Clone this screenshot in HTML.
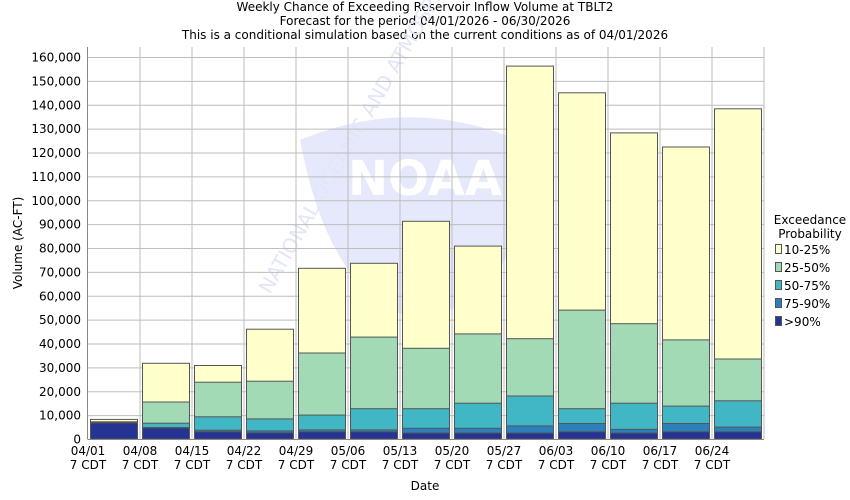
<!DOCTYPE html>
<html><head><meta charset="utf-8"><style>
html,body{margin:0;padding:0;background:#fff}
svg{display:block;font-family:"DejaVu Sans","Liberation Sans",sans-serif}
</style></head><body>
<svg width="850" height="500" viewBox="0 0 850 500" xmlns="http://www.w3.org/2000/svg">
<rect width="850" height="500" fill="#fff"/>
<g font-size="12" text-anchor="middle" fill="#000">
<text x="425" y="11">Weekly Chance of Exceeding Reservoir Inflow Volume at TBLT2</text>
<text x="425" y="25">Forecast for the period 04/01/2026 - 06/30/2026</text>
<text x="425" y="39">This is a conditional simulation based on the current conditions as of 04/01/2026</text>
</g>
<!-- watermark -->
<g>
<path d="M300,140 Q420,90 540,150 Q520,300 420,320 Q330,300 300,140Z" fill="#e6e9fb"/>
<text x="425" y="195" font-size="48" font-weight="bold" fill="#fff" text-anchor="middle">NOAA</text>
<text x="270" y="295" font-size="20" fill="#e3e6f8" transform="rotate(-60 270 295)">NATIONAL OCEANIC AND ATMOSPHERIC</text>
</g>
<!-- grid -->
<g stroke="#bdbdbd" stroke-width="1">
<line x1="88" y1="57.5" x2="764" y2="57.5"/><line x1="88" y1="81.4" x2="764" y2="81.4"/><line x1="88" y1="105.3" x2="764" y2="105.3"/><line x1="88" y1="129.1" x2="764" y2="129.1"/><line x1="88" y1="153" x2="764" y2="153"/><line x1="88" y1="176.9" x2="764" y2="176.9"/><line x1="88" y1="200.8" x2="764" y2="200.8"/><line x1="88" y1="224.6" x2="764" y2="224.6"/><line x1="88" y1="248.5" x2="764" y2="248.5"/><line x1="88" y1="272.4" x2="764" y2="272.4"/><line x1="88" y1="296.3" x2="764" y2="296.3"/><line x1="88" y1="320.1" x2="764" y2="320.1"/><line x1="88" y1="344" x2="764" y2="344"/><line x1="88" y1="367.9" x2="764" y2="367.9"/><line x1="88" y1="391.8" x2="764" y2="391.8"/><line x1="88" y1="415.6" x2="764" y2="415.6"/>
<line x1="140" y1="47" x2="140" y2="439"/><line x1="192" y1="47" x2="192" y2="439"/><line x1="244" y1="47" x2="244" y2="439"/><line x1="296" y1="47" x2="296" y2="439"/><line x1="348" y1="47" x2="348" y2="439"/><line x1="400" y1="47" x2="400" y2="439"/><line x1="452" y1="47" x2="452" y2="439"/><line x1="504" y1="47" x2="504" y2="439"/><line x1="556" y1="47" x2="556" y2="439"/><line x1="608" y1="47" x2="608" y2="439"/><line x1="660" y1="47" x2="660" y2="439"/><line x1="712" y1="47" x2="712" y2="439"/><line x1="764" y1="47" x2="764" y2="439"/>
</g>
<!-- bars -->
<g transform="translate(0,439) scale(1,-1)" stroke="#555" stroke-width="1">
<g><rect x="90.5" width="47" height="19.6" fill="#ffffcc"/><rect x="90.5" width="47" height="17.2" fill="#a1dab4"/><rect x="90.5" width="47" height="17" fill="#41b6c4"/><rect x="90.5" width="47" height="16.7" fill="#2c7fb8"/><rect x="90.5" width="47" height="16" fill="#253494"/></g>
<g><rect x="142.5" width="47" height="75.7" fill="#ffffcc"/><rect x="142.5" width="47" height="37" fill="#a1dab4"/><rect x="142.5" width="47" height="15.8" fill="#41b6c4"/><rect x="142.5" width="47" height="11.5" fill="#2c7fb8"/><rect x="142.5" width="47" height="11" fill="#253494"/></g>
<g><rect x="194.5" width="47" height="73.5" fill="#ffffcc"/><rect x="194.5" width="47" height="56.8" fill="#a1dab4"/><rect x="194.5" width="47" height="22.2" fill="#41b6c4"/><rect x="194.5" width="47" height="8.8" fill="#2c7fb8"/><rect x="194.5" width="47" height="7.2" fill="#253494"/></g>
<g><rect x="246.5" width="47" height="109.8" fill="#ffffcc"/><rect x="246.5" width="47" height="57.8" fill="#a1dab4"/><rect x="246.5" width="47" height="20.1" fill="#41b6c4"/><rect x="246.5" width="47" height="8.1" fill="#2c7fb8"/><rect x="246.5" width="47" height="6.2" fill="#253494"/></g>
<g><rect x="298.5" width="47" height="170.7" fill="#ffffcc"/><rect x="298.5" width="47" height="86" fill="#a1dab4"/><rect x="298.5" width="47" height="23.9" fill="#41b6c4"/><rect x="298.5" width="47" height="9.1" fill="#2c7fb8"/><rect x="298.5" width="47" height="7.2" fill="#253494"/></g>
<g><rect x="350.5" width="47" height="175.7" fill="#ffffcc"/><rect x="350.5" width="47" height="101.9" fill="#a1dab4"/><rect x="350.5" width="47" height="30.3" fill="#41b6c4"/><rect x="350.5" width="47" height="9.1" fill="#2c7fb8"/><rect x="350.5" width="47" height="7.2" fill="#253494"/></g>
<g><rect x="402.5" width="47" height="217.7" fill="#ffffcc"/><rect x="402.5" width="47" height="90.7" fill="#a1dab4"/><rect x="402.5" width="47" height="30.3" fill="#41b6c4"/><rect x="402.5" width="47" height="10.7" fill="#2c7fb8"/><rect x="402.5" width="47" height="6" fill="#253494"/></g>
<g><rect x="454.5" width="47" height="192.9" fill="#ffffcc"/><rect x="454.5" width="47" height="105.1" fill="#a1dab4"/><rect x="454.5" width="47" height="35.8" fill="#41b6c4"/><rect x="454.5" width="47" height="10.7" fill="#2c7fb8"/><rect x="454.5" width="47" height="6" fill="#253494"/></g>
<g><rect x="506.5" width="47" height="372.9" fill="#ffffcc"/><rect x="506.5" width="47" height="100.3" fill="#a1dab4"/><rect x="506.5" width="47" height="43" fill="#41b6c4"/><rect x="506.5" width="47" height="13.1" fill="#2c7fb8"/><rect x="506.5" width="47" height="6" fill="#253494"/></g>
<g><rect x="558.5" width="47" height="346.2" fill="#ffffcc"/><rect x="558.5" width="47" height="128.9" fill="#a1dab4"/><rect x="558.5" width="47" height="30.3" fill="#41b6c4"/><rect x="558.5" width="47" height="15.5" fill="#2c7fb8"/><rect x="558.5" width="47" height="7.2" fill="#253494"/></g>
<g><rect x="610.5" width="47" height="306.1" fill="#ffffcc"/><rect x="610.5" width="47" height="115.3" fill="#a1dab4"/><rect x="610.5" width="47" height="35.8" fill="#41b6c4"/><rect x="610.5" width="47" height="9.6" fill="#2c7fb8"/><rect x="610.5" width="47" height="6" fill="#253494"/></g>
<g><rect x="662.5" width="47" height="292" fill="#ffffcc"/><rect x="662.5" width="47" height="99.1" fill="#a1dab4"/><rect x="662.5" width="47" height="32.9" fill="#41b6c4"/><rect x="662.5" width="47" height="15.5" fill="#2c7fb8"/><rect x="662.5" width="47" height="7.2" fill="#253494"/></g>
<g><rect x="714.5" width="47" height="330.2" fill="#ffffcc"/><rect x="714.5" width="47" height="80" fill="#a1dab4"/><rect x="714.5" width="47" height="38.2" fill="#41b6c4"/><rect x="714.5" width="47" height="11.9" fill="#2c7fb8"/><rect x="714.5" width="47" height="7.2" fill="#253494"/></g>
</g>
<!-- axes -->
<g stroke="#888" stroke-width="1">
<line x1="87.5" y1="47" x2="87.5" y2="439"/><line x1="87.5" y1="439.5" x2="764" y2="439.5"/>
</g>
<g font-size="12" text-anchor="end" fill="#000">
<text x="81" y="61.5">160,000</text><text x="81" y="85.4">150,000</text><text x="81" y="109.3">140,000</text><text x="81" y="133.1">130,000</text><text x="81" y="157">120,000</text><text x="81" y="180.9">110,000</text><text x="81" y="204.8">100,000</text><text x="81" y="228.6">90,000</text><text x="81" y="252.5">80,000</text><text x="81" y="276.4">70,000</text><text x="81" y="300.3">60,000</text><text x="81" y="324.1">50,000</text><text x="81" y="348">40,000</text><text x="81" y="371.9">30,000</text><text x="81" y="395.8">20,000</text><text x="81" y="419.6">10,000</text><text x="81" y="443.5">0</text>
</g>
<g font-size="12" text-anchor="middle" fill="#000">
<text x="88" y="455">04/01</text><text x="88" y="469">7 CDT</text>
<text x="140" y="455">04/08</text><text x="140" y="469">7 CDT</text>
<text x="192" y="455">04/15</text><text x="192" y="469">7 CDT</text>
<text x="244" y="455">04/22</text><text x="244" y="469">7 CDT</text>
<text x="296" y="455">04/29</text><text x="296" y="469">7 CDT</text>
<text x="348" y="455">05/06</text><text x="348" y="469">7 CDT</text>
<text x="400" y="455">05/13</text><text x="400" y="469">7 CDT</text>
<text x="452" y="455">05/20</text><text x="452" y="469">7 CDT</text>
<text x="504" y="455">05/27</text><text x="504" y="469">7 CDT</text>
<text x="556" y="455">06/03</text><text x="556" y="469">7 CDT</text>
<text x="608" y="455">06/10</text><text x="608" y="469">7 CDT</text>
<text x="660" y="455">06/17</text><text x="660" y="469">7 CDT</text>
<text x="712" y="455">06/24</text><text x="712" y="469">7 CDT</text>
<text x="425" y="490">Date</text>
<text x="22" y="243" transform="rotate(-90 22 243)">Volume (AC-FT)</text>
</g>
<!-- legend -->
<g font-size="12" fill="#000">
<text x="810" y="224" text-anchor="middle">Exceedance</text>
<text x="810" y="238" text-anchor="middle">Probability</text>
<g stroke="#555"><rect x="775.5" y="244.5" width="6" height="9" fill="#ffffcc"/><rect x="775.5" y="262.5" width="6" height="9" fill="#a1dab4"/><rect x="775.5" y="280.5" width="6" height="9" fill="#41b6c4"/><rect x="775.5" y="298.5" width="6" height="9" fill="#2c7fb8"/><rect x="775.5" y="316.5" width="6" height="9" fill="#253494"/></g>
<text x="784" y="254">10-25%</text><text x="784" y="272">25-50%</text><text x="784" y="290">50-75%</text><text x="784" y="308">75-90%</text><text x="784" y="326">&gt;90%</text>
</g>
</svg>
</body></html>
